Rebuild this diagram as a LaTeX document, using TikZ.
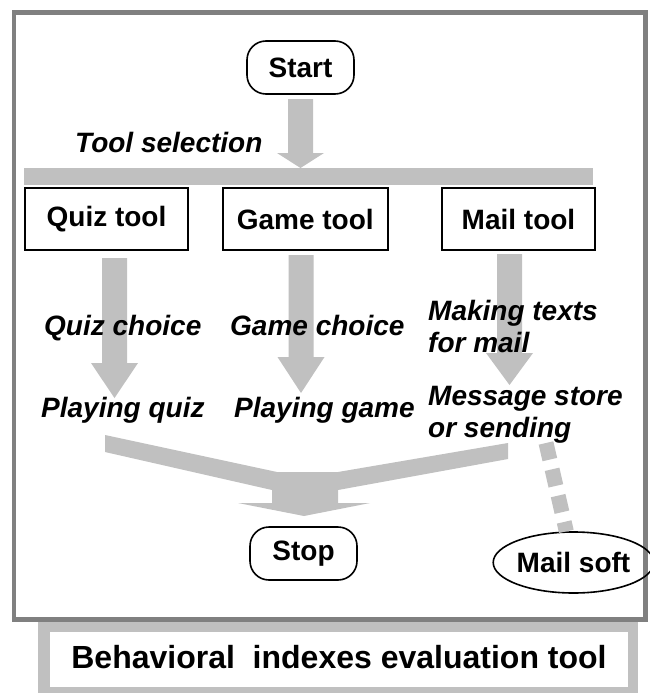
\documentclass[tikz,border=0pt]{standalone}
\usepackage{fontspec}
\setmainfont{Liberation Sans}
\usetikzlibrary{shapes.geometric}
\definecolor{fatgray}{HTML}{C0C0C0}
\definecolor{framegray}{HTML}{808080}
\newcommand\fatdown[4]{%
  \fill[fat] ({#1-12.5},#2) -- ({#1+12.5},#2) -- ({#1+12.5},#3) -- ({#1+23.5},#3)
    -- (#1,#4) -- ({#1-23.5},#3) -- ({#1-12.5},#3) -- cycle;}
\begin{document}
\begin{tikzpicture}[x=1pt,y=-1pt,
  lbl/.style={font=\fontsize{28}{30}\selectfont\bfseries\itshape, anchor=base west, inner sep=0pt},
  toolbox/.style={draw=black, line width=2pt, minimum height=62pt, inner sep=0pt,
    font=\fontsize{28}{30}\selectfont\bfseries},
  term/.style={draw=black, line width=1.6pt, rounded corners=19pt, minimum width=107pt,
    minimum height=53pt, inner sep=0pt, font=\fontsize{28}{30}\selectfont\bfseries},
  fat/.style={fill=fatgray, draw=none}
]
\useasboundingbox (0,0) rectangle (649,693);
\fill[white] (0,0) rectangle (649,693);
% frame
\draw[framegray, line width=4.5pt] (14,12.5) rectangle (645.5,619.5);
% bottom box
\fill[fatgray] (38,622) rectangle (638,693);
\fill[white] (50,632) rectangle (628,687);
\node[font=\fontsize{32}{34}\selectfont\bfseries, anchor=base, inner sep=0pt] (title) at (339,668) {Behavioral~ indexes evaluation tool};
% nodes
\node[term] (start) at (300.5,67.5) {Start};
\node[term] (stop) at (303.5,553.5) {Stop};
\node[toolbox, minimum width=163pt] (quiz) at (106.5,219) {Quiz tool};
\node[toolbox, minimum width=165pt] (game) at (305.25,219) {Game tool};
\node[toolbox, minimum width=153pt] (mail) at (518.5,219) {Mail tool};
\node[draw=black, line width=1.6pt, ellipse, minimum width=141pt, minimum height=61pt, inner sep=0pt,
  font=\fontsize{28}{30}\selectfont\bfseries] (mailsoft) at (573.5,562.5) {Mail soft};
% fat arrows
\fatdown{300.5}{99}{153}{168}
\fill[fat] (24,168) rectangle (593,185);
\fatdown{114.5}{258}{363}{398}
\fatdown{301}{255}{357}{393}
\fatdown{509.5}{254}{353}{385}
\fill[fat] (105,435) -- (277,472) -- (338,472) -- (508,443) -- (508,459) -- (338,490)
  -- (338,503) -- (370,503) -- (304,516) -- (238,503) -- (272,503) -- (272,490)
  -- (105,452) -- cycle;
\coordinate (dstart) at (546,443);
\draw[fatgray, line width=15pt, dash pattern=on 17pt off 10pt] (dstart) -- (mailsoft);
% labels
\node[lbl] (toolsel) at (75,152) {Tool selection};
\node[lbl] (qchoice) at (44,335) {Quiz choice};
\node[lbl] (gchoice) at (230,335) {Game choice};
\node[lbl] (mtexts) at (428,320) {Making texts};
\node[lbl] (mfor) at (428,352) {for mail};
\node[lbl] (pquiz) at (41,417) {Playing quiz};
\node[lbl] (pgame) at (234,417) {Playing game};
\node[lbl] (msg) at (428,405) {Message store};
\node[lbl] (orsend) at (428,437) {or sending};
\end{tikzpicture}
\end{document}
